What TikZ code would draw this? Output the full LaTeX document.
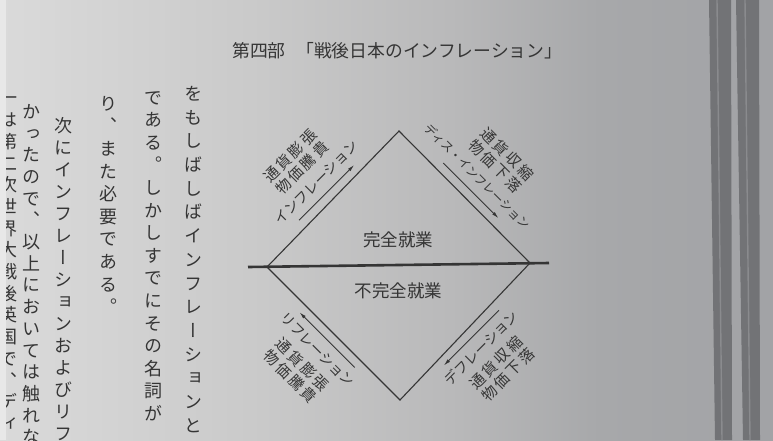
\documentclass[tikz,border=0pt]{standalone}
\usepackage{fontspec}
\usetikzlibrary{arrows.meta,calc}
\newfontfamily\jp{Noto Sans CJK JP}
\newfontfamily\vjp[RawFeature=+vert]{Noto Sans CJK JP}
\definecolor{ink}{HTML}{353535}
\definecolor{bgA}{HTML}{DADADA}
\definecolor{bgB}{HTML}{CACACA}
\definecolor{bgC}{HTML}{B9B9BA}
\definecolor{bgD}{HTML}{A7A8AA}
\definecolor{bgE}{HTML}{A2A3A6}
\definecolor{stripc}{HTML}{E8E8E8}
\definecolor{bandc}{HTML}{727376}
\definecolor{bandl}{HTML}{8A8B8E}
\pgfdeclarehorizontalshading{pagebg}{100bp}{color(0bp)=(bgA); color(25bp)=(bgA); color(41.2bp)=(bgB); color(54.1bp)=(bgC); color(63.8bp)=(bgD); color(75bp)=(bgE); color(100bp)=(bgE)}
% vertical stacking of characters
\let\vtend\relax
\newcommand\vt[2]{\vbox{\baselineskip=#1\lineskip=0pt\lineskiplimit=-100pt\relax\vtA#2\vtend}}
\def\vtA#1#2\vtend{\hbox to 1em{\hss#1\hss}\ifx\relax#2\relax\else\expandafter\vtA\fi#2\vtend}
% spaced kanji
\newdimen\kspitch \kspitch=17.5pt
\newcommand\ks[1]{\ksA#1\vtend}
\def\ksA#1#2\vtend{\hbox to \kspitch{\hss#1\hss}\ifx\relax#2\relax\else\expandafter\ksA\fi#2\vtend}
\tikzset{
  lab/.style={font=\jp\fontsize{15}{17}\selectfont, text=ink, inner sep=0pt, align=center},
  kata/.style={font=\jp\fontsize{14}{17}\selectfont, text=ink, inner sep=0pt},
  ctr/.style={font=\jp\fontsize{17.5}{20}\selectfont, text=ink, inner sep=0pt},
  hdr/.style={font=\jp\fontsize{17.8}{20}\selectfont, text=ink, inner sep=0pt, anchor=west},
  dline/.style={draw=ink, line width=1.1pt, line join=miter},
  hline/.style={draw=ink, line width=2.6pt},
  flowarr/.style={draw=ink, line width=0.9pt, -{Latex[length=7pt,width=3.5pt]}},
  vcol/.style={font=\vjp\fontsize{18}{22}\selectfont, text=ink, inner sep=0pt, anchor=north},
}
\begin{document}
\begin{tikzpicture}[x=1pt,y=-1pt]
\useasboundingbox (0,0) rectangle (773,440);
\clip (0,0) rectangle (773,440);
\shade[shading=pagebg] (0,0) rectangle (773,440);
% book edges on the right
\fill[bandc] (709,0) -- (731,0) -- (732,440) -- (715,440) -- cycle;
\fill[bandc] (736,0) -- (759,0) -- (760,440) -- (743,440) -- cycle;
\draw[bandl, line width=1.4pt] (717,0) -- (722,440);
\draw[bandl, line width=1.4pt] (745,0) -- (750,440);
% header
\node[hdr] (hdr1) at (232,51) {第四部};
\node[hdr] (hdr2) at (296,51) {「戦後日本のインフレーション」};
% vertical body text
\node[vcol] (c1) at (193,86) {\vt{23.7pt}{をもしばしばインフレーションと}};
\node[vcol] (c2) at (153,91) {\vt{22.6pt}{である。しかしすでにその名詞が}};
\node[vcol] (c3) at (108,96) {\vt{22.6pt}{り、また必要である。}};
\node[vcol] (c4) at (63.5,117) {\vt{22pt}{次にインフレーションおよびリフ}};
\node[vcol] (c5) at (31.5,104) {\vt{21.7pt}{かったので、以上においては触れな}};
\node[vcol] (c6) at (8,97) {\vt{21.7pt}{一は第二次世界大戦後英国で、ディ}};
\fill[stripc] (0,0) rectangle (6,440);
% diagram
\coordinate (L) at (267,267);
\coordinate (T) at (399,131);
\coordinate (R) at (530,263);
\coordinate (B) at (400,400);
\coordinate (H1) at (248,267);
\coordinate (H2) at (549,263);
\draw[hline] (H1) -- (H2);
\draw[dline] (L) -- (T) -- (R) -- (B) -- cycle;
\node[ctr] (full) at (398,240) {完全就業};
\node[ctr] (under) at (398.5,290.5) {不完全就業};
% arrows
\coordinate (aUL1) at (299,220.2);  \coordinate (aUL2) at (354.2,165);
\coordinate (aUR1) at (443.3,163);  \coordinate (aUR2) at (498.5,218.2);
\coordinate (aLL1) at (354.7,367.5); \coordinate (aLL2) at (299.5,312.3);
\coordinate (aLR1) at (499,310.3);  \coordinate (aLR2) at (443.8,365.5);
\draw[flowarr] (aUL1) -- (aUL2);
\draw[flowarr] (aUR1) -- (aUR2);
\draw[flowarr] (aLL1) -- (aLL2);
\draw[flowarr] (aLR1) -- (aLR2);
% labels
\node[kata, rotate=45] (kUL) at (316.7,182.7) {インフレーション};
\node[lab, rotate=45] (jUL) at (296,162) {\ks{通貨膨張}\\\ks{物価騰貴}};
\node[kata, rotate=-45, font=\jp\fontsize{12}{14}\selectfont] (kUR) at (477.5,176.5) {ディス・インフレーション};
\node[lab, rotate=-45] (jUR) at (501.5,160) {\ks{通貨収縮}\\\ks{物価下落}};
\node[kata, rotate=-45] (kLL) at (317.2,349.8) {リフレーション};
\node[lab, rotate=-45] (jLL) at (296.5,370.5) {\ks{通貨膨張}\\\ks{物価騰貴}};
\node[kata, rotate=45] (kLR) at (481.3,347.8) {デフレーション};
\node[lab, rotate=45] (jLR) at (502,368.5) {\ks{通貨収縮}\\\ks{物価下落}};
\end{tikzpicture}
\end{document}
